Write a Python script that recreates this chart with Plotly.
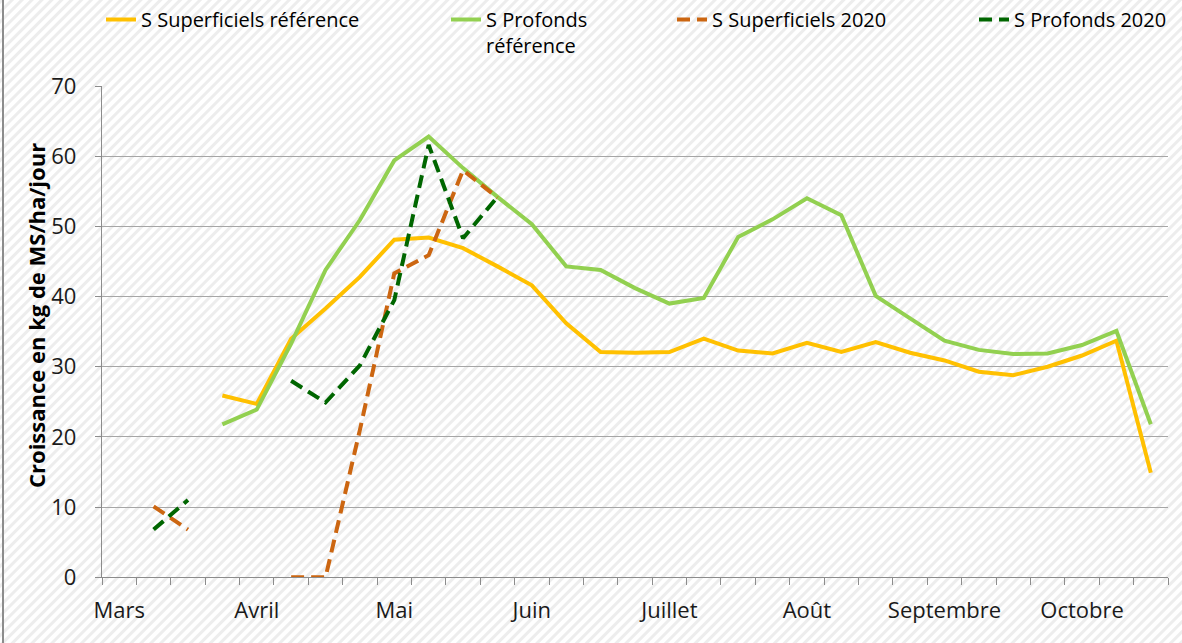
import base64
import plotly.graph_objects as go

# ---------------- data ----------------
months = ["Mars", "Avril", "Mai", "Juin", "Juillet", "Août", "Septembre", "Octobre"]
categories = [
    "Mars-1", "Mars-2", "Mars-3", "Mars-4",
    "Avril-1", "Avril-2", "Avril-3", "Avril-4",
    "Mai-1", "Mai-2", "Mai-3", "Mai-4",
    "Juin-1", "Juin-2", "Juin-3", "Juin-4",
    "Juillet-1", "Juillet-2", "Juillet-3", "Juillet-4",
    "Août-1", "Août-2", "Août-3", "Août-4",
    "Septembre-1", "Septembre-2", "Septembre-3", "Septembre-4",
    "Octobre-1", "Octobre-2", "Octobre-3",
]
tick_text = [c.split("-")[0] if c.endswith("-1") else "" for c in categories]

sup_ref = [None, None, None, 25.9, 24.7, 34.0, 38.3, 42.8, 48.1, 48.4, 46.9, 44.3, 41.6,
           36.2, 32.1, 32.0, 32.1, 34.0, 32.3, 31.9, 33.4, 32.1, 33.5, 32.0, 30.9,
           29.3, 28.8, 30.0, 31.6, 33.7, 14.9]
prof_ref = [None, None, None, 21.8, 23.9, 33.3, 43.8, 50.9, 59.4, 62.8, 58.3, 54.2, 50.3,
            44.3, 43.8, 41.2, 39.0, 39.8, 48.5, 51.0, 54.0, 51.6, 40.1, 36.9, 33.7,
            32.4, 31.8, 31.9, 33.1, 35.1, 21.8]
sup_2020 = [None, 10.1, 6.8, None, None, 0.0, 0.0, 21.0, 43.3, 45.9, 58.0, 54.1, None,
            None, None, None, None, None, None, None, None, None, None, None, None,
            None, None, None, None, None, None]
prof_2020 = [None, 6.8, 11.0, None, None, 28.0, 24.9, 30.2, 39.5, 61.6, 48.3, 54.2, None,
             None, None, None, None, None, None, None, None, None, None, None, None,
             None, None, None, None, None, None]

y_title = "Croissance en kg de MS/ha/jour"
FONT = "Open Sans"

# ---------------- figure ----------------
W, H = 1182, 643
fig = go.Figure()
fig.add_trace(go.Scatter(x=categories, y=sup_ref, mode="lines", name="S Superficiels référence",
                         line=dict(color="#FFC000", width=4), legend="legend"))
fig.add_trace(go.Scatter(x=categories, y=prof_ref, mode="lines", name="S Profonds<br>référence",
                         line=dict(color="#92D050", width=4), legend="legend2"))
fig.add_trace(go.Scatter(x=categories, y=sup_2020, mode="lines", name="S Superficiels 2020",
                         line=dict(color="#CC6611", width=4, dash="13px,7px"), legend="legend3"))
fig.add_trace(go.Scatter(x=categories, y=prof_2020, mode="lines", name="S Profonds 2020",
                         line=dict(color="#006600", width=4, dash="13px,7px"), legend="legend4"))

# hatched background (decorative)
svg = (
    f'<svg xmlns="http://www.w3.org/2000/svg" width="{W}" height="{H}">'
    '<defs><pattern id="h" width="7" height="7" patternUnits="userSpaceOnUse" '
    'patternTransform="rotate(45)"><rect width="3" height="7" fill="#ededed"/></pattern></defs>'
    '<rect width="100%" height="100%" fill="#ffffff"/>'
    '<rect width="100%" height="100%" fill="url(#h)"/></svg>'
)
src = "data:image/svg+xml;base64," + base64.b64encode(svg.encode()).decode()

x0, x1 = 102, 1168
y_top, y_bot = 86, 577.3

def leg(xpx, ypx):
    return dict(x=xpx / W, y=1 - ypx / H, xanchor="left", yanchor="top", orientation="h",
                bgcolor="rgba(0,0,0,0)", font=dict(family=FONT, size=20, color="#000000"),
                valign="top", tracegroupgap=0, visible=True)

fig.update_layout(
    width=W, height=H,
    margin=dict(l=0, r=0, t=0, b=0),
    showlegend=True,
    paper_bgcolor="#ffffff",
    plot_bgcolor="rgba(0,0,0,0)",
    font=dict(family=FONT, color="#000000"),
    images=[dict(source=src, xref="paper", yref="paper", x=0, y=1, sizex=1, sizey=1,
                 xanchor="left", yanchor="top", sizing="stretch", layer="below")],
    legend=leg(101, 0),
    legend2=leg(446, 0),
    legend3=leg(672, 0),
    legend4=leg(974, 0),
    xaxis=dict(
        domain=[x0 / W, x1 / W],
        type="category",
        range=[-0.5, len(categories) - 0.5],
        tickmode="array", tickvals=categories, ticktext=tick_text,
        tickson="boundaries", ticks="outside", ticklen=7, tickcolor="#8c8c8c", tickwidth=1.3,
        showline=True, linecolor="#8c8c8c", linewidth=1.3,
        showgrid=False, zeroline=False, tickangle=0,
        tickfont=dict(family=FONT, size=22, color="#1a1a1a"),
        ticklabelstandoff=13,
        automargin=False,
    ),
    yaxis=dict(
        domain=[1 - y_bot / H, 1 - y_top / H],
        range=[0, 70], dtick=10, tick0=0,
        ticks="outside", ticklen=6, tickcolor="#8c8c8c", tickwidth=1.3,
        showline=True, linecolor="#8c8c8c", linewidth=1.3,
        showgrid=True, gridcolor="#a6a6a6", gridwidth=1.3,
        zeroline=False,
        tickfont=dict(family=FONT, size=22, color="#1a1a1a"),
        ticklabelstandoff=14,
        automargin=False,
    ),
    annotations=[dict(text=f"<b>{y_title}</b>", textangle=-90, xref="paper", yref="paper",
                      x=36 / W, y=1 - 316 / H, xanchor="center", yanchor="middle",
                      showarrow=False,
                      font=dict(family=FONT, size=22, color="#000000"))],
    shapes=[dict(type="line", xref="paper", yref="paper", x0=3 / W, x1=3 / W, y0=0, y1=1,
                 line=dict(color="#8c8c8c", width=2))],
)

fig.write_html(
    "out.html",
    config={"displayModeBar": False},
    post_script="document.body.style.margin='0px';document.body.style.overflow='hidden';",
)
